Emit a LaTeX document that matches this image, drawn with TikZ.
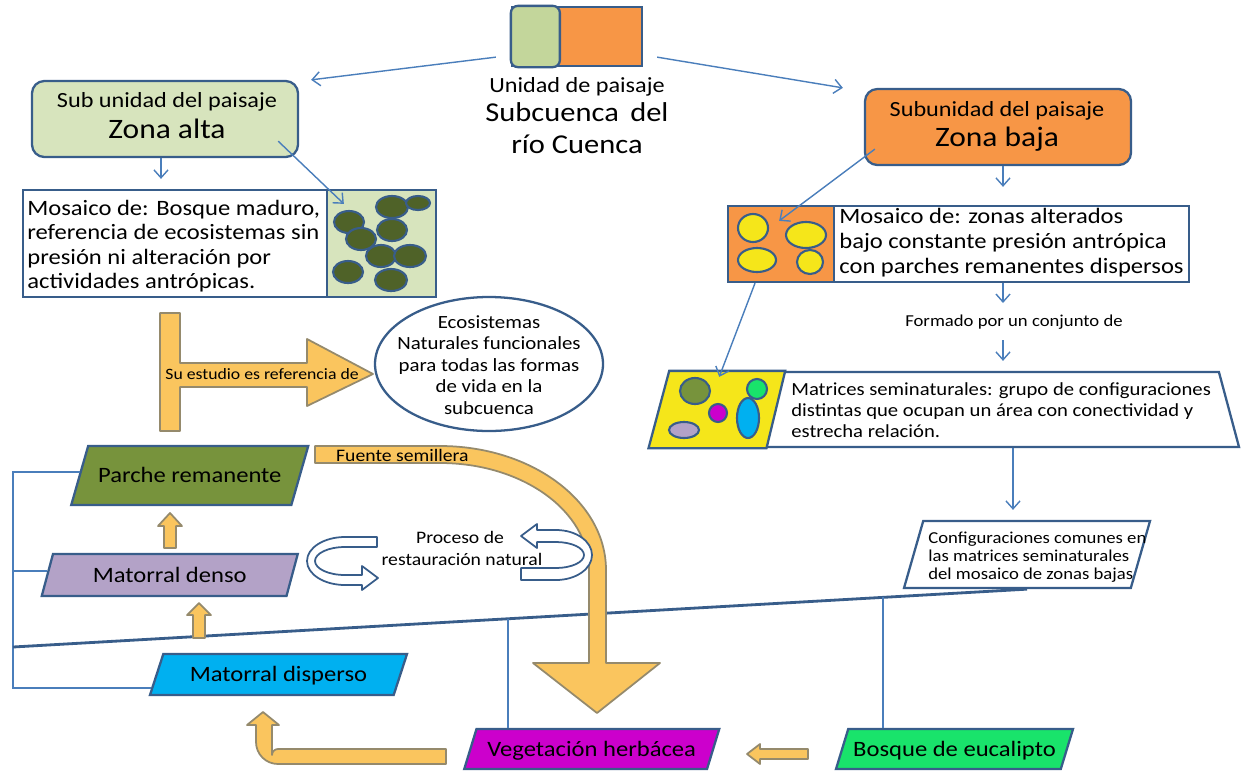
\documentclass[tikz,border=0pt]{standalone}
\usepackage{fontspec}
\setmainfont{Carlito}[FakeStretch=1.12]
\usetikzlibrary{shapes.geometric,arrows.meta,calc}
\definecolor{bordc}{HTML}{385D8A}
\definecolor{connc}{HTML}{4A7EBB}
\definecolor{verdeclaro}{HTML}{D7E4BD}
\definecolor{verdeunidad}{HTML}{C3D69B}
\definecolor{naranja}{HTML}{F79646}
\definecolor{oliva}{HTML}{77933C}
\definecolor{olivaosc}{HTML}{4F6228}
\definecolor{lila}{HTML}{B3A2C7}
\definecolor{celeste}{HTML}{00B0F0}
\definecolor{magenta2}{HTML}{CC00CC}
\definecolor{verdeb}{HTML}{19E36B}
\definecolor{amarillo}{HTML}{F5E61A}
\definecolor{flecha}{HTML}{FAC55E}
\definecolor{flechab}{HTML}{958A6C}
\newcommand{\fsz}[1]{\fontsize{#1}{#1}\selectfont}

\begin{document}
\begin{tikzpicture}[x=0.02cm,y=-0.02cm]
	% one unit = one pixel of the sheet
	\def\px{0.02cm}
	% node style definition
	\tikzstyle{zona} = [draw=bordc, line width=1.3pt, rectangle, rounded corners=7pt, inner sep=0pt];
	\tikzstyle{caja} = [draw=bordc, line width=1.3pt, rectangle, inner sep=0pt];
	\tikzstyle{paral} = [trapezium, draw=bordc, line width=1.3pt, trapezium stretches body, inner sep=0pt, font=\fsz{12.5}];
	\tikzstyle{linea} = [font=\fsz{12.5}, anchor=base west, inner sep=0pt];
	\tikzstyle{conn} = [draw=connc, line width=0.8pt, -{Straight Barb[length=4.5pt,width=8pt]}];
	\tikzstyle{brack} = [draw=connc, line width=1pt];
	\tikzstyle{diag} = [draw=bordc, line width=1.6pt];
	\tikzstyle{gruesa} = [fill=flecha, draw=flechab, line width=1pt, line join=round];
	\tikzstyle{giro} = [fill=white, draw=bordc, line width=1pt, line join=round];
	\tikzstyle{mancha} = [draw=bordc, line width=1.2pt];

	\useasboundingbox[fill=white] (0,0) rectangle (1246,771);

	% unidad de paisaje
	\node[caja, fill=naranja, minimum width=130*\px, minimum height=59*\px] (unidad) at (577,36.5) {};
	\filldraw[fill=verdeunidad, draw=bordc, line width=1.3pt, rounded corners=4pt] (unidad.north west) rectangle ($(unidad.south west)+(49,0)$);
	\node[anchor=base, font=\fsz{12.3}] (tit1) at (577,92) {Unidad de paisaje};
	\node[anchor=base, font=\fsz{15.5}] (tit2) at (577,121) {Subcuenca\, del};
	\node[anchor=base, font=\fsz{15.5}] (tit3) at (577,153) {río Cuenca};

	% subunidades
	\node[zona, fill=verdeclaro, minimum width=266*\px, minimum height=76*\px] (zonaalta) at (165,119) {};
	\node[anchor=base, font=\fsz{12.3}] (za1) at (167,107) {Sub unidad del paisaje};
	\node[anchor=base, font=\fsz{16}] (za2) at (167,138) {Zona alta};
	\node[zona, fill=naranja, minimum width=266*\px, minimum height=76*\px] (zonabaja) at (998,127) {};
	\node[anchor=base, font=\fsz{12.3}] (zb1) at (997,116) {Subunidad del paisaje};
	\node[anchor=base, font=\fsz{16}] (zb2) at (997,146) {Zona baja};

	% mosaico zona alta
	\node[caja, fill=white, minimum width=304*\px, minimum height=107*\px] (mostxt) at (175,243.5) {};
	\node[caja, fill=verdeclaro, minimum width=109*\px, minimum height=107*\px] (mosimg) at (381.5,243.5) {};
	\foreach \cx/\cy/\rx/\ry in {392/207/16/11, 418/203/12/7, 349/222/15/11, 361/239/15/11, 392/230/15/11, 381/256/15/11, 410/256/16/11, 348/272/15/11, 391/280/16/11}
		\filldraw[mancha, fill=olivaosc] (\cx,\cy) ellipse [x radius=\rx, y radius=\ry];
	\foreach \t [count=\i] in {{Mosaico de: Bosque maduro,}, {referencia de ecosistemas sin}, {presión ni  alteración por}, {actividades antrópicas.}}
		\node[linea] (ma\i) at (27,190.5+24.6*\i) {\t};

	% mosaico zona baja
	\node[caja, fill=naranja, minimum width=106*\px, minimum height=76*\px] (mosbimg) at (781,244) {};
	\node[caja, fill=white, minimum width=355*\px, minimum height=76*\px] (mosbtxt) at (1011.5,244) {};
	\foreach \cx/\cy/\rx/\ry in {753/228/15/14, 806/235/20/13, 757/260/19/12, 810/262/13/12}
		\filldraw[mancha, fill=amarillo] (\cx,\cy) ellipse [x radius=\rx, y radius=\ry];
	\foreach \t [count=\i] in {{Mosaico de: zonas alterados}, {bajo constante presión antrópica}, {con parches remanentes dispersos}}
		\node[linea] (mb\i) at (839,198+25*\i) {\t};

	\coordinate (colb) at (1003,0);
	\coordinate (colc) at (1013,0);
	\node[anchor=base, font=\fsz{9.5}] (formado) at (1014,326) {Formado por un conjunto de};

	% matrices seminaturales
	\node[trapezium, trapezium left angle=75, trapezium right angle=75, trapezium stretches body, draw=bordc, line width=1.3pt, fill=white, inner sep=0pt, text height=0.75cm, text depth=0.75cm, minimum width=589*\px] (matrices) at (944.5,409.5) {};
	\filldraw[fill=amarillo, draw=bordc, line width=1.3pt] (matrices.top left corner) -- ($(matrices.top left corner)+(116,0)$) -- ($(matrices.bottom left corner)+(118,0)$) -- (matrices.bottom left corner) -- cycle;
	\filldraw[mancha, fill=oliva] (695,391) ellipse [x radius=15, y radius=13];
	\filldraw[mancha, fill=verdeb] (757,389) ellipse [x radius=10, y radius=10];
	\filldraw[mancha, fill=magenta2] (718,413) ellipse [x radius=9, y radius=9];
	\filldraw[mancha, fill=celeste] (748,418) ellipse [x radius=11, y radius=20];
	\filldraw[mancha, fill=lila] (684,430) ellipse [x radius=15, y radius=8];
	\foreach \t [count=\i] in {{Matrices seminaturales: grupo de configuraciones}, {distintas que ocupan un área con conectividad y}, {estrecha relación.}}
		\node[linea, font=\fsz{10.5}] (mt\i) at (791,374+21*\i) {\t};

	% configuraciones comunes
	\node[paral, trapezium left angle=74, trapezium right angle=106, fill=white, text height=0.67cm, text depth=0.67cm, minimum width=246*\px] (config) at (1027,554.5) {};
	\foreach \t [count=\i] in {{Configuraciones comunes en}, {las matrices seminaturales}, {del mosaico de zonas bajas}}
		\node[linea, font=\fsz{9.5}] (cf\i) at (928,525+18*\i) {\t};

	% ecosistemas naturales
	\node[ellipse, draw=bordc, line width=1.3pt, fill=white, inner sep=0pt, minimum width=228*\px, minimum height=134*\px] (eco) at (489,364) {};
	\foreach \t [count=\i] in {{Ecosistemas}, {Naturales funcionales}, {para  todas las formas}, {de vida en la}, {subcuenca}}
		\node[anchor=base, inner sep=0pt, font=\fsz{10.6}] (ec\i) at (489,306.5+21.5*\i) {\t};

	% flecha en T
	\filldraw[gruesa] (160,313) -- (180,313) -- (180,363) -- (307,363) -- (307,339) -- (373,374) -- (307,406) -- (307,387) -- (180,387) -- (180,431) -- (160,431) -- cycle;
	\node[anchor=base, font=\fsz{9}] (ref) at (262,379) {Su estudio es referencia de};

	% estados de la sucesion
	\node[paral, trapezium left angle=74, trapezium right angle=106, fill=oliva, text height=0.73cm, text depth=0.45cm, minimum width=237*\px] (parche) at (189.75,475.5) {Parche remanente};
	\node[paral, trapezium left angle=75, trapezium right angle=105, fill=lila, text height=0.56cm, text depth=0.28cm, minimum width=256*\px] (denso) at (169.75,575) {Matorral denso};
	\node[paral, trapezium left angle=72, trapezium right angle=108, fill=celeste, text height=0.55cm, text depth=0.27cm, minimum width=257*\px] (disperso) at (278.5,674.5) {Matorral disperso};
	\node[paral, trapezium left angle=73, trapezium right angle=107, fill=magenta2, text height=0.54cm, text depth=0.26cm, minimum width=255*\px] (veget) at (591.75,749) {Vegetación herbácea};
	\node[paral, trapezium left angle=73, trapezium right angle=107, fill=verdeb, text height=0.54cm, text depth=0.26cm, minimum width=237*\px] (bosque) at (954.5,749) {Bosque de eucalipto};

	% conectores
	\draw[conn] ($(unidad.south west)+(-15,-10)$) -- ($(zonaalta.north east)+(12,0)$);
	\draw[conn] ($(unidad.south east)+(14,-10)$) -- ($(zonabaja.north west)+(-21,0)$);
	\draw[conn] ($(zonaalta.south)+(-4,0)$) -- ($(zonaalta.south |- mostxt.north)+(-4,-10)$);
	\draw[conn] ($(zonaalta.south east)+(-21,-17)$) -- ($(mosimg.north west)+(18,15)$);
	\draw[conn] ($(zonabaja.south west)+(11,-17)$) -- ($(mosbimg.north east)+(-56,16)$);
	\draw[conn] (zonabaja.south -| colb) -- ($(mosbtxt.north -| colb)+(0,-18)$);
	\draw[conn] (mosbtxt.south -| colb) -- ($(formado.base -| colb)+(0,-23)$);
	\draw[conn] ($(formado.base -| colb)+(0,14)$) -- ($(matrices.north -| colb)+(0,-10)$);
	\draw[conn] ($(mosbimg.south)+(-26,0)$) -- ($(matrices.top left corner)+(50,6)$);
	\draw[conn] (matrices.south -| colc) -- ($(config.north -| colc)+(0,-10)$);

	% lineas de agrupacion
	\coordinate (brk) at (13,647);
	\draw[brack] (parche.178) -- (parche.178 -| brk) -- (disperso.186 -| brk) -- (disperso.186);
	\draw[brack] (denso.178) -- (denso.178 -| brk);
	\draw[diag] (brk) -- (config.south);
	\draw[brack] ($(brk)!0.488!(config.south)$) coordinate (dv1) -- (dv1 |- veget.north);
	\draw[brack] ($(brk)!0.858!(config.south)$) coordinate (dv2) -- (dv2 |- bosque.north);

	% flechas gruesas
	\filldraw[gruesa] (164,548) -- (164,526) -- (158,526) -- (170,513) -- (182,526) -- (176,526) -- (176,548) -- cycle;
	\filldraw[gruesa] (193,638) -- (193,615) -- (187,615) -- (199,603) -- (211,615) -- (205,615) -- (205,638) -- cycle;
	\filldraw[gruesa] (446,749) -- (278,749) arc[start angle=270, end angle=180, radius=6] -- (272,725) -- (279,725) -- (263,712) -- (247,725) -- (256,725) -- (256,742) arc[start angle=180, end angle=90, radius=22] -- (446,764) -- cycle;
	\filldraw[gruesa] (808,749) -- (760,749) -- (760,744) -- (747,754) -- (760,764) -- (760,759) -- (808,759) -- cycle;
	\filldraw[gruesa] (315,446) -- (440,446) arc[start angle=270, end angle=360, x radius=166, y radius=124] -- (606,663) -- (660,663) -- (597,713) -- (533,663) -- (589,663) -- (589,570) arc[start angle=0, end angle=-90, x radius=149, y radius=107] -- (315,463) -- cycle;
	\node[anchor=base west, font=\fsz{10}] (fuente) at (330,461) {Fuente semillera};

	% proceso de restauracion
	\filldraw[giro] (377,537) -- (345,537) arc[start angle=270, end angle=90, x radius=38, y radius=24] -- (362,585) -- (362,590) -- (378,578) -- (362,566) -- (362,575) -- (345,575) arc[start angle=90, end angle=270, x radius=30, y radius=14] -- (377,547) -- cycle;
	\filldraw[giro] (521,580) -- (556,580) arc[start angle=90, end angle=-90, x radius=36, y radius=25] -- (537,530) -- (537,524) -- (521,536) -- (537,548) -- (537,542) -- (556,542) arc[start angle=-90, end angle=90, x radius=28, y radius=13] -- (521,568) -- cycle;
	\node[anchor=base, font=\fsz{10}] (proc1) at (460,543) {Proceso de};
	\node[anchor=base, font=\fsz{10}] (proc2) at (462,565) {restauración natural};
\end{tikzpicture}
\end{document}
